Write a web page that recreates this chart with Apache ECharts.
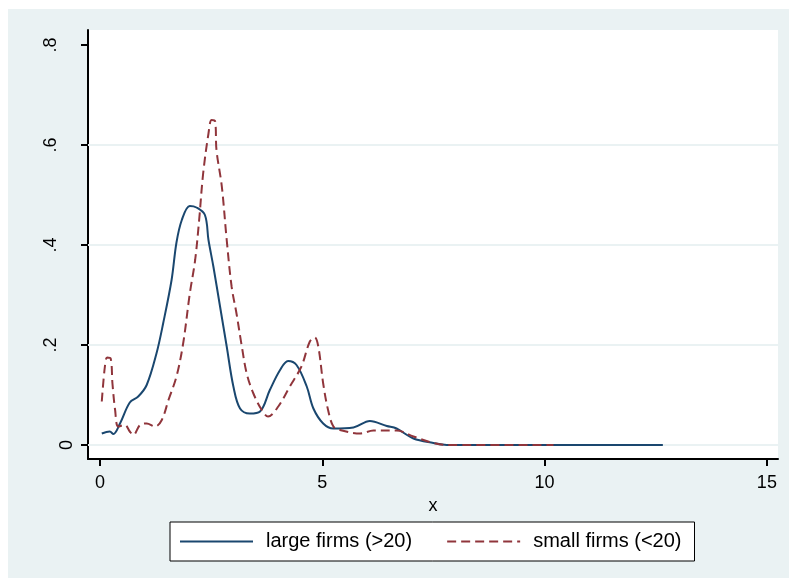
<!DOCTYPE html>
<html>
<head>
<meta charset="utf-8">
<script src="https://cdn.jsdelivr.net/npm/echarts@6/dist/echarts.min.js"></script>
<style>
  html, body { margin: 0; padding: 0; background: #ffffff; }
  #chart { width: 789px; height: 578px; }
</style>
</head>
<body>
<div id="chart"></div>
<script>
// Kernel density estimates of x, by firm size
const largeFirms = [
  [0.04, 0.023], [0.22, 0.027], [0.30, 0.022], [0.45, 0.043], [0.67, 0.085],
  [0.86, 0.097], [1.05, 0.12], [1.27, 0.183], [1.42, 0.243], [1.61, 0.33],
  [1.72, 0.405], [1.84, 0.45], [2.02, 0.478], [2.17, 0.475], [2.36, 0.46],
  [2.44, 0.41], [2.55, 0.357], [2.70, 0.277], [2.85, 0.197], [3.00, 0.117],
  [3.15, 0.073], [3.37, 0.063], [3.60, 0.067], [3.82, 0.11], [4.05, 0.15],
  [4.23, 0.168], [4.42, 0.16], [4.65, 0.117], [4.80, 0.073], [5.02, 0.043],
  [5.25, 0.033], [5.70, 0.035], [6.07, 0.048], [6.45, 0.038], [6.67, 0.033],
  [7.05, 0.013], [7.50, 0.004], [7.80, 0.0], [10.0, 0.0], [12.66, 0.0]
];
const smallFirms = [
  [0.04, 0.087], [0.11, 0.157], [0.16, 0.175], [0.24, 0.173], [0.28, 0.123],
  [0.34, 0.07], [0.41, 0.037], [0.56, 0.04], [0.67, 0.027], [0.75, 0.02],
  [0.90, 0.04], [1.05, 0.043], [1.24, 0.037], [1.39, 0.05], [1.54, 0.09],
  [1.72, 0.137], [1.87, 0.203], [2.02, 0.303], [2.14, 0.37], [2.23, 0.45],
  [2.32, 0.543], [2.44, 0.623], [2.51, 0.65], [2.59, 0.647], [2.62, 0.59],
  [2.74, 0.517], [2.85, 0.41], [2.96, 0.317], [3.07, 0.263], [3.19, 0.197],
  [3.30, 0.143], [3.45, 0.103], [3.64, 0.07], [3.78, 0.057], [4.01, 0.077],
  [4.27, 0.117], [4.53, 0.157], [4.72, 0.207], [4.83, 0.215], [4.91, 0.197],
  [5.02, 0.123], [5.13, 0.07], [5.25, 0.037], [5.40, 0.03], [5.85, 0.023],
  [6.15, 0.029], [6.67, 0.029], [7.05, 0.017], [7.50, 0.004], [7.80, 0.0],
  [10.2, 0.0]
];
const seriesNames = ['large firms (>20)', 'small firms (<20)'];
const xTicks = [0, 5, 10, 15];
const yTicks = [0, 0.2, 0.4, 0.6, 0.8];
const yTickLabels = ['0', '.2', '.4', '.6', '.8'];
const gridValues = [0, 0.2, 0.4, 0.6];
const xTitle = 'x';

const FONT = '"Liberation Sans", Arial, sans-serif';
const BG = '#EAF2F3';
const NAVY = '#1a476f';
const MAROON = '#90353b';

const chart = echarts.init(document.getElementById('chart'), null, { renderer: 'canvas' });

chart.setOption({
  animation: false,
  textStyle: { fontFamily: FONT, color: '#000' },
  graphic: [{
    type: 'rect',
    silent: true,
    z: -100,
    shape: { x: 8, y: 9, width: 781, height: 569 },
    style: { fill: BG }
  }],
  grid: {
    left: 88, right: 11, top: 30, bottom: 119,
    show: true, backgroundColor: '#ffffff', borderWidth: 0
  },
  xAxis: {
    type: 'value',
    min: -0.27, max: 15.25,
    name: xTitle,
    nameLocation: 'middle',
    nameGap: 35,
    nameTextStyle: { fontSize: 18, fontFamily: FONT, color: '#000' },
    axisLine: { show: true, onZero: false, lineStyle: { color: '#000', width: 2 } },
    axisTick: { show: true, customValues: xTicks, length: 7, lineStyle: { color: '#000', width: 2 } },
    axisLabel: {
      customValues: xTicks,
      margin: 15,
      fontSize: 18, fontFamily: FONT, color: '#000',
      formatter: v => String(v)
    },
    splitLine: { show: false }
  },
  yAxis: {
    type: 'value',
    min: -0.028, max: 0.83,
    axisLine: { show: true, onZero: false, lineStyle: { color: '#000', width: 2 } },
    axisTick: { show: true, customValues: yTicks, length: 7, lineStyle: { color: '#000', width: 2 } },
    axisLabel: {
      customValues: yTicks,
      rotate: 90,
      margin: 12,
      formatter: v => {
        const i = yTicks.findIndex(t => Math.abs(t - v) < 1e-9);
        const s = i >= 0 ? yTickLabels[i] : '';
        return s === '0' ? '{z|' + s + '}' : '{d|' + s + '}';
      },
      rich: {
        z: { fontSize: 18, fontFamily: FONT, color: '#000' },
        d: { fontSize: 18, fontFamily: FONT, color: '#000', padding: [0, 0, 16, 0] }
      }
    },
    splitLine: { show: false }
  },
  legend: {
    data: seriesNames,
    left: 170, top: 522,
    orient: 'horizontal',
    padding: [8, 13, 8, 9],
    itemWidth: 73, itemHeight: 1, itemGap: 34,
    backgroundColor: '#ffffff',
    borderColor: '#000', borderWidth: 1,
    textStyle: { fontSize: 20, fontFamily: FONT, color: '#000', lineHeight: 23, padding: [0, 0, 0, 8] }
  },
  series: [
    {
      name: 'gridlines',
      type: 'line',
      data: [],
      z: 1,
      silent: true,
      markLine: {
        silent: true,
        z: 1,
        symbol: 'none',
        label: { show: false },
        lineStyle: { color: BG, width: 2, type: 'solid' },
        data: gridValues.map(v => ({ yAxis: v }))
      }
    },
    {
      name: seriesNames[0],
      type: 'line',
      data: largeFirms,
      symbol: 'none',
      smooth: 0.35,
      z: 3,
      color: NAVY,
      lineStyle: { color: NAVY, width: 2 }
    },
    {
      name: seriesNames[1],
      type: 'line',
      data: smallFirms,
      symbol: 'none',
      smooth: 0.35,
      z: 4,
      color: MAROON,
      lineStyle: { color: MAROON, width: 2, type: [9, 5] }
    }
  ]
});
</script>
</body>
</html>
